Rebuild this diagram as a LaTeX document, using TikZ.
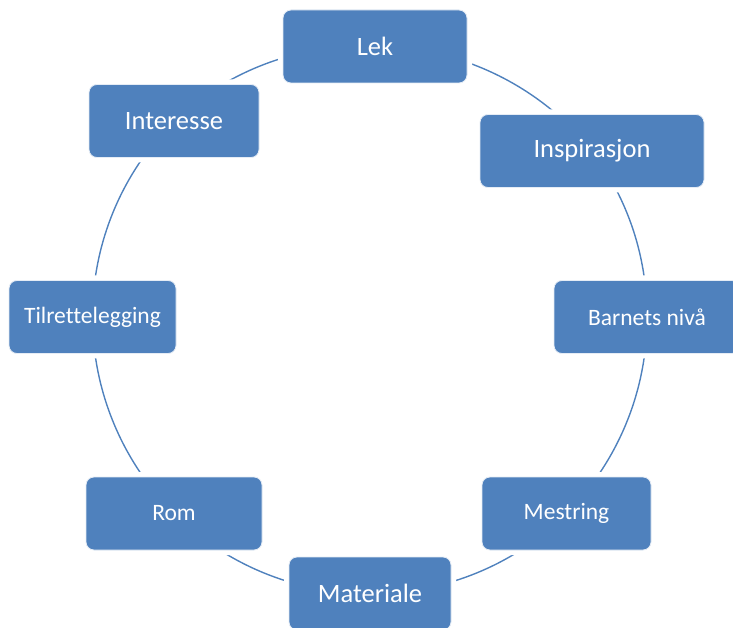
\documentclass[tikz,border=0pt]{standalone}
\usepackage{fontspec}
\setmainfont{Carlito}[Ligatures=CommonOff]
\usetikzlibrary{backgrounds}
\definecolor{smartblue}{HTML}{4F81BD}
\tikzset{
	boks/.style={rectangle, rounded corners=8pt, fill=smartblue, draw=white!85!smartblue,
		line width=0.8pt, text=white, inner sep=0pt, minimum height=73pt,
		preaction={draw=white, line width=10pt}},
	stor/.style={font=\fontsize{26.5}{30}\selectfont},
	liten/.style={font=\fontsize{23.5}{27}\selectfont},
	bue/.style={draw=smartblue, line width=1.4pt, looseness=0.885},
}
\begin{document}
\begin{tikzpicture}[x=1pt,y=1pt]
	\useasboundingbox (0,0) rectangle (733,627);
	
	%%% Bokser
	\node[boks, stor, minimum width=184pt] (lek) at (375,580.5) {Lek};
	\node[boks, stor, minimum width=224pt] (insp) at (592,476) {Inspirasjon};
	\node[boks, liten, minimum width=186pt] (barn) at (647,310) {Barnets nivå};
	\node[boks, liten, minimum width=169pt] (mest) at (566.5,113.5) {Mestring};
	\node[boks, stor, minimum width=162pt] (mat) at (370,33.5) {Materiale};
	\node[boks, liten, minimum width=176pt] (rom) at (174,113.5) {Rom};
	\node[boks, liten, minimum width=167pt] (tilr) at (92.5,310) {Tilrettelegging};
	\node[boks, stor, minimum width=170pt] (int) at (174,506) {Interesse};
	
	%%% Sirkel
	\begin{scope}[on background layer]
		\draw[bue] (lek.center) to[bend left=26] (insp.center);
		\draw[bue] (insp.center) to[bend left=18.3] (barn.center);
		\draw[bue] (barn.center) to[bend left=22.5] (mest.center);
		\draw[bue] (mest.center) to[bend left=22.7] (mat.center);
		\draw[bue] (mat.center) to[bend left=22.5] (rom.center);
		\draw[bue] (rom.center) to[bend left=22.5] (tilr.center);
		\draw[bue] (tilr.center) to[bend left=22.7] (int.center);
		\draw[bue] (int.center) to[bend left=23] (lek.center);
	\end{scope}
\end{tikzpicture}
\end{document}
